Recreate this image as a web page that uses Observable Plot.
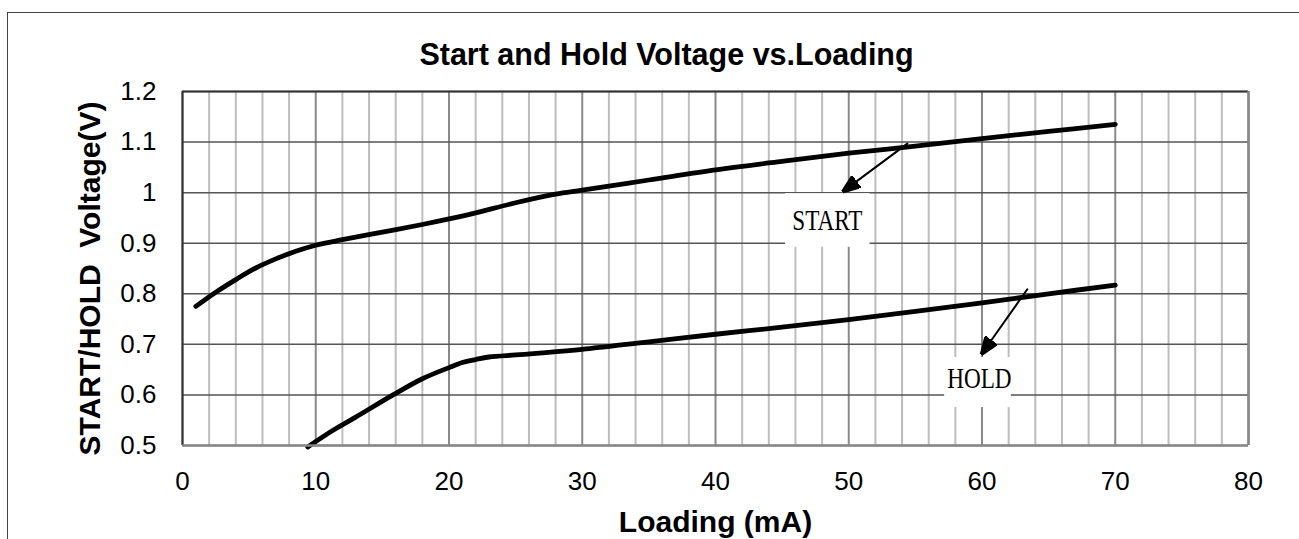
<!DOCTYPE html>
<html>
<head>
<meta charset="utf-8">
<script src="https://cdn.jsdelivr.net/npm/d3@7"></script>
<script src="https://cdn.jsdelivr.net/npm/@observablehq/plot@0.6"></script>
<style>
  html, body { margin: 0; padding: 0; background: #fff; overflow: hidden; }
  #wrap { position: relative; width: 1299px; height: 539px; overflow: hidden; }
  #border { position: absolute; left: 7px; top: 12px; width: 1400px; height: 700px; border: 1.5px solid #444; }
  #chart { position: absolute; left: 0; top: 0; }
</style>
</head>
<body>
<div id="wrap"><div id="border"></div><div id="chart"></div></div>
<script>
// ---- data ----
const startX = [1, 2.5, 4, 5.5, 7, 8.5, 10, 12, 15, 18, 20, 22, 25, 28, 30, 35, 40, 45, 50, 55, 60, 65, 70];
const startY = [0.775, 0.803, 0.828, 0.851, 0.869, 0.884, 0.896, 0.907, 0.922, 0.937, 0.948, 0.96, 0.98, 0.997, 1.005, 1.025, 1.045, 1.062, 1.078, 1.092, 1.107, 1.121, 1.135];
const holdX = [9.4, 11.3, 13, 15.8, 18, 20, 21, 22, 23, 25, 27, 30, 35, 40, 45, 50, 55, 60, 65, 70];
const holdY = [0.497, 0.53, 0.556, 0.6, 0.632, 0.654, 0.664, 0.670, 0.675, 0.679, 0.683, 0.69, 0.705, 0.72, 0.734, 0.749, 0.765, 0.782, 0.8, 0.817];
const xTicks = [0, 10, 20, 30, 40, 50, 60, 70, 80];
const xMinor = d3.range(0, 81, 2);
const yTicks = [0.5, 0.6, 0.7, 0.8, 0.9, 1.0, 1.1, 1.2];
const seriesLabels = ["START", "HOLD"];
const labelX = [48.4, 59.8];
const labelY = [0.945, 0.633];
const labelBoxX1 = [45.25, 57.2];
const labelBoxX2 = [51.6, 62.2];
const labelBoxY1 = [0.892, 0.575];
const labelBoxY2 = [0.998, 0.674];
const arrowFromX = [54.4, 63.4];
const arrowFromY = [1.097, 0.809];
const arrowToX = [49.6, 60.0];
const arrowToY = [1.003, 0.682];
const chartTitle = "Start and Hold Voltage vs.Loading";
const xTitle = "Loading (mA)";
const yTitle = "START/HOLD  Voltage(V)";

// ---- tables ----
const lineData = [
  ...startX.map((x, i) => ({series: "START", x, y: startY[i]})),
  ...holdX.map((x, i) => ({series: "HOLD", x, y: holdY[i]}))
];
const labels = seriesLabels.map((s, i) => ({s, x: labelX[i], y: labelY[i], x1: labelBoxX1[i], x2: labelBoxX2[i], y1: labelBoxY1[i], y2: labelBoxY2[i]}));
const arrows = [];
seriesLabels.forEach((s, i) => {
  arrows.push({s, x: arrowFromX[i], y: arrowFromY[i]});
  arrows.push({s, x: arrowToX[i], y: arrowToY[i]});
});

const arrowMarker = (color, context) => {
  const m = d3.create("svg:marker")
    .attr("viewBox", "-6 -5 12 10")
    .attr("refX", 5)
    .attr("refY", 0)
    .attr("markerWidth", 9)
    .attr("markerHeight", 7.5)
    .attr("markerUnits", "strokeWidth")
    .attr("orient", "auto");
  m.append("path").attr("d", "M-6,-4.5L6,0L-6,4.5Z").attr("fill", "black");
  return m.node();
};

const font = "'Liberation Sans', Arial, sans-serif";
const fmt = d => String(+d.toFixed(1));

const chart = Plot.plot({
  width: 1299,
  height: 539,
  marginLeft: 182,
  marginRight: 51,
  marginTop: 91,
  marginBottom: 94,
  style: {fontFamily: font, background: "transparent", color: "#000"},
  x: {domain: [0, 80], ticks: xTicks, tickSize: 0, tickPadding: 26, label: null},
  y: {domain: [0.5, 1.2], ticks: yTicks, tickSize: 0, tickPadding: 26, label: null, tickFormat: fmt},
  marks: [
    Plot.ruleX(xMinor.filter(d => d % 10 !== 0), {stroke: "#bdbdbd", strokeWidth: 2}),
    Plot.ruleX(xTicks, {stroke: "#8a8a8a", strokeWidth: 2}),
    Plot.ruleY(yTicks, {stroke: "#555", strokeWidth: 1.5}),
    Plot.rect(labels, {x1: "x1", x2: "x2", y1: "y1", y2: "y2", fill: "white"}),
    Plot.line(lineData, {x: "x", y: "y", z: "series", stroke: "black", strokeWidth: 4.8, curve: "catmull-rom", strokeLinecap: "round", strokeLinejoin: "round"}),
    Plot.line(arrows, {x: "x", y: "y", z: "s", stroke: "black", strokeWidth: 2, markerEnd: arrowMarker}),
    Plot.text(labels, {x: "x", y: "y", text: "s", fontFamily: "'Liberation Serif', 'DejaVu Serif', serif", fontSize: 29, fill: "#000", className: "serieslabel"}),
    Plot.ruleY([1.2], {stroke: "#333", strokeWidth: 2}),
    Plot.ruleX([0], {stroke: "#333", strokeWidth: 2}),
    Plot.ruleY([0.5], {stroke: "#888", strokeWidth: 2.5}),
    Plot.ruleX([80], {stroke: "#888", strokeWidth: 2.5}),
    Plot.axisX({ticks: xTicks, tickSize: 0, tickPadding: 26, fontSize: 26, label: null}),
    Plot.axisY({ticks: yTicks, tickSize: 0, tickPadding: 26, fontSize: 26, label: null, tickFormat: fmt}),
    Plot.text([chartTitle], {frameAnchor: "top", lineAnchor: "middle", textAnchor: "middle", dx: -49, dy: -36, fontSize: 30.5, fontWeight: "bold", fill: "#000"}),
    Plot.text([xTitle], {frameAnchor: "bottom", lineAnchor: "middle", textAnchor: "middle", dy: 77, fontSize: 30, fontWeight: "bold", fill: "#000"}),
    Plot.text([yTitle], {frameAnchor: "left", lineAnchor: "middle", textAnchor: "middle", dx: -92, dy: 10, rotate: -90, fontSize: 30, fontWeight: "bold", fill: "#000"})
  ]
});
document.getElementById("chart").appendChild(chart);
// condense the serif series labels horizontally (reference uses a narrow serif face)
d3.select(chart).selectAll(".serieslabel text").each(function () {
  const w = this.getComputedTextLength();
  this.setAttribute("textLength", (w * 0.8).toFixed(1));
  this.setAttribute("lengthAdjust", "spacingAndGlyphs");
});
</script>
</body>
</html>
